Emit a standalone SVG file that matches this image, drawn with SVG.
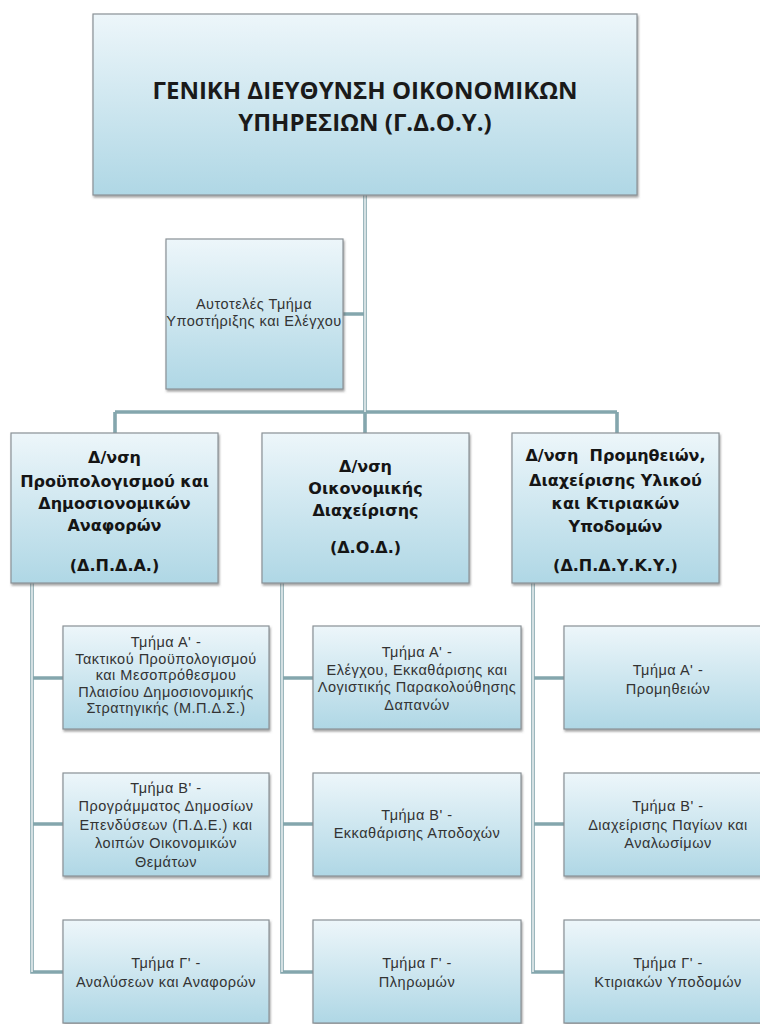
<svg xmlns="http://www.w3.org/2000/svg" width="760" height="1024" viewBox="0 0 760 1024">
<defs>
<linearGradient id="bg" x1="0" y1="0" x2="0" y2="1">
<stop offset="0" stop-color="#edf6fa"/>
<stop offset="1" stop-color="#afd7e5"/>
</linearGradient>
<filter id="sh" x="-5%" y="-5%" width="112%" height="115%">
<feDropShadow dx="1" dy="2" stdDeviation="1.2" flood-color="#555" flood-opacity="0.55"/>
</filter>
<style>
.box{fill:url(#bg);stroke:#8a9297;stroke-width:1.2;filter:url(#sh)}
.title{font-family:"Open Sans","Liberation Sans",sans-serif;font-weight:bold;font-size:24px;fill:#1a1a1a;text-anchor:middle}
.dir{font-family:"DejaVu Sans","Liberation Sans",sans-serif;font-weight:bold;font-size:16px;fill:#151515;text-anchor:middle}
.sub{font-family:"Liberation Sans","Open Sans",sans-serif;font-size:14.5px;letter-spacing:0.5px;fill:#333;text-anchor:middle}
.co{fill:none;stroke:#84a6ad;stroke-width:3.6}
.ci{fill:none;stroke:#ffffff;stroke-width:1.3}
</style>
</defs>
<rect width="760" height="1024" fill="#ffffff"/>

<g id="connectors">
<path class="co" d="M365 195V412M343 314H365M115 412H617M115 412V433M365 412V433M617 412V433M32 583V972H63M32 678H63M32 824H63M282 583V972H313M282 678H313M282 824H313M533 583V972H564M533 678H564M533 824H564"/>
<path class="ci" d="M365 195V412M32 583V972M282 583V972M533 583V972"/>
</g>

<g id="gdoy">
<rect class="box" x="93" y="14" width="544" height="181"/>
<text class="title" x="365" y="99">ΓΕΝΙΚΗ ΔΙΕΥΘΥΝΣΗ ΟΙΚΟΝΟΜΙΚΩΝ</text>
<text class="title" x="365" y="131">ΥΠΗΡΕΣΙΩΝ (Γ.Δ.Ο.Υ.)</text>
</g>

<g id="autoteles">
<rect class="box" x="166" y="239" width="177" height="150"/>
<text class="sub" x="254" y="309">Αυτοτελές Τμήμα</text>
<text class="sub" x="254" y="326">Υποστήριξης και Ελέγχου</text>
</g>

<g id="dpda">
<rect class="box" x="11" y="433" width="207" height="150"/>
<text class="dir" x="114.5" y="463">Δ/νση</text>
<text class="dir" x="114.5" y="487">Προϋπολογισμού και</text>
<text class="dir" x="114.5" y="509">Δημοσιονομικών</text>
<text class="dir" x="114.5" y="531">Αναφορών</text>
<text class="dir" x="114.5" y="571">(Δ.Π.Δ.Α.)</text>
</g>

<g id="dod">
<rect class="box" x="262" y="433" width="207" height="150"/>
<text class="dir" x="365.5" y="472">Δ/νση</text>
<text class="dir" x="365.5" y="494">Οικονομικής</text>
<text class="dir" x="365.5" y="516">Διαχείρισης</text>
<text class="dir" x="365.5" y="553">(Δ.Ο.Δ.)</text>
</g>

<g id="dpdyky">
<rect class="box" x="512" y="433" width="207" height="150"/>
<text class="dir" x="615.5" y="461" xml:space="preserve">Δ/νση  Προμηθειών,</text>
<text class="dir" x="615.5" y="486">Διαχείρισης Υλικού</text>
<text class="dir" x="615.5" y="509">και Κτιριακών</text>
<text class="dir" x="615.5" y="532">Υποδομών</text>
<text class="dir" x="615.5" y="571">(Δ.Π.Δ.Υ.Κ.Υ.)</text>
</g>

<g id="dpda-a">
<rect class="box" x="63" y="626" width="206" height="103"/>
<text class="sub" x="166" y="647">Τμήμα Α' -</text>
<text class="sub" x="166" y="663.5">Τακτικού Προϋπολογισμού</text>
<text class="sub" x="166" y="680">και Μεσοπρόθεσμου</text>
<text class="sub" x="166" y="696.5">Πλαισίου Δημοσιονομικής</text>
<text class="sub" x="166" y="713">Στρατηγικής (Μ.Π.Δ.Σ.)</text>
</g>

<g id="dpda-b">
<rect class="box" x="63" y="773" width="206" height="103"/>
<text class="sub" x="166" y="793">Τμήμα Β' -</text>
<text class="sub" x="166" y="811">Προγράμματος Δημοσίων</text>
<text class="sub" x="166" y="830">Επενδύσεων (Π.Δ.Ε.) και</text>
<text class="sub" x="166" y="848">λοιπών Οικονομικών</text>
<text class="sub" x="166" y="867">Θεμάτων</text>
</g>

<g id="dpda-c">
<rect class="box" x="63" y="920" width="206" height="103"/>
<text class="sub" x="166" y="968">Τμήμα Γ' -</text>
<text class="sub" x="166" y="987">Αναλύσεων και Αναφορών</text>
</g>

<g id="dod-a">
<rect class="box" x="313" y="626" width="208" height="103"/>
<text class="sub" x="417" y="657">Τμήμα Α' -</text>
<text class="sub" x="417" y="674.5">Ελέγχου, Εκκαθάρισης και</text>
<text class="sub" x="417" y="692">Λογιστικής Παρακολούθησης</text>
<text class="sub" x="417" y="710">Δαπανών</text>
</g>

<g id="dod-b">
<rect class="box" x="313" y="773" width="208" height="103"/>
<text class="sub" x="417" y="820">Τμήμα Β' -</text>
<text class="sub" x="417" y="838">Εκκαθάρισης Αποδοχών</text>
</g>

<g id="dod-c">
<rect class="box" x="313" y="920" width="208" height="103"/>
<text class="sub" x="417" y="968">Τμήμα Γ' -</text>
<text class="sub" x="417" y="987">Πληρωμών</text>
</g>

<g id="dpdyky-a">
<rect class="box" x="564" y="626" width="208" height="103"/>
<text class="sub" x="668" y="675">Τμήμα Α' -</text>
<text class="sub" x="668" y="694">Προμηθειών</text>
</g>

<g id="dpdyky-b">
<rect class="box" x="564" y="773" width="208" height="103"/>
<text class="sub" x="668" y="811">Τμήμα Β' -</text>
<text class="sub" x="668" y="830">Διαχείρισης Παγίων και</text>
<text class="sub" x="668" y="848">Αναλωσίμων</text>
</g>

<g id="dpdyky-c">
<rect class="box" x="564" y="920" width="208" height="103"/>
<text class="sub" x="668" y="968">Τμήμα Γ' -</text>
<text class="sub" x="668" y="987">Κτιριακών Υποδομών</text>
</g>
</svg>
